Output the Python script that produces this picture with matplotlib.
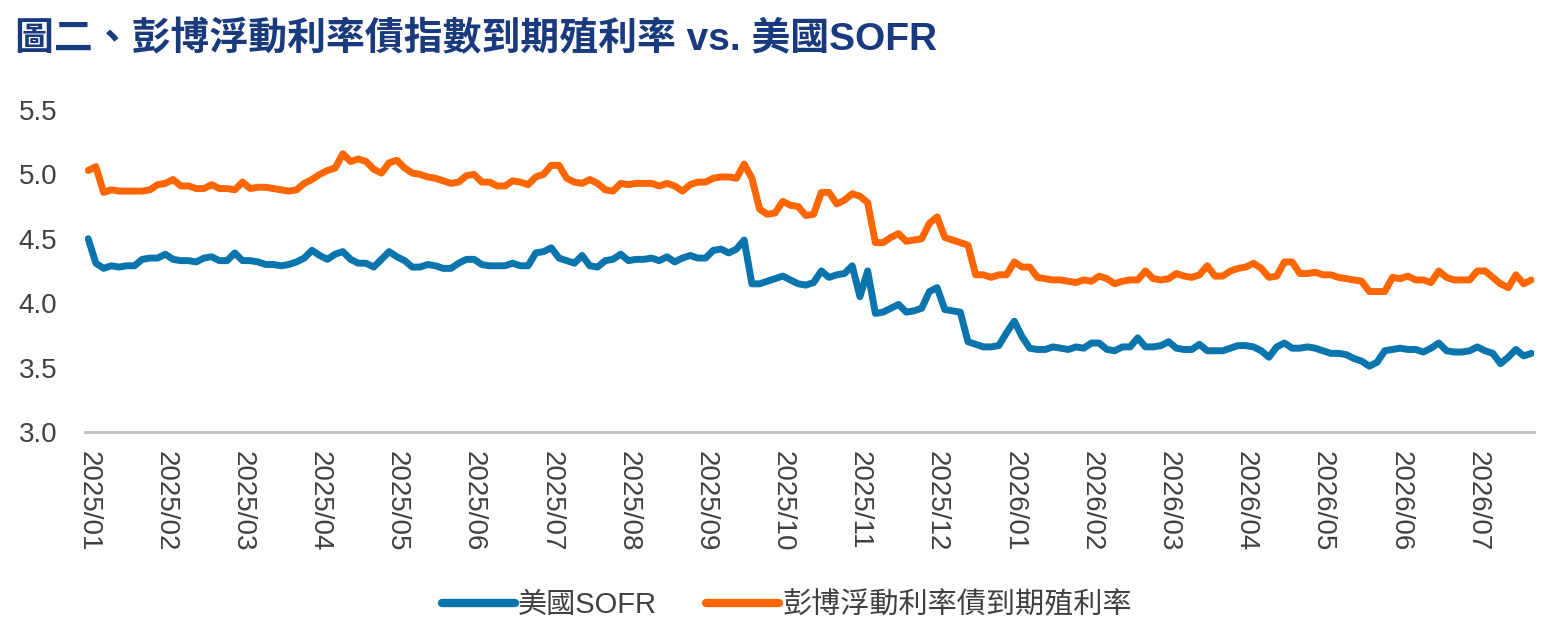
import numpy as np
import matplotlib
matplotlib.use("Agg")
import matplotlib.pyplot as plt

# ==========================================================
# Data (~10 points per month)
# ==========================================================

month_labels = ["2025/01", "2025/02", "2025/03", "2025/04", "2025/05",
                "2025/06", "2025/07", "2025/08", "2025/09", "2025/10",
                "2025/11", "2025/12", "2026/01", "2026/02", "2026/03",
                "2026/04", "2026/05", "2026/06", "2026/07"]

# 彭博浮動利率債到期殖利率
bbg_frn_ytm = [
    5.03, 5.06, 4.86, 4.88, 4.87, 4.87, 4.87, 4.87, 4.88, 4.92,
    4.93, 4.96, 4.91, 4.91, 4.89, 4.89, 4.92, 4.89, 4.89, 4.88,
    4.94, 4.89, 4.90, 4.90, 4.89, 4.88, 4.87, 4.88, 4.93, 4.96,
    5.00, 5.03, 5.05, 5.16, 5.10, 5.12, 5.10, 5.04, 5.01, 5.09,
    5.11, 5.05, 5.01, 5.00, 4.98, 4.97, 4.95, 4.93, 4.94, 4.99,
    5.00, 4.94, 4.94, 4.91, 4.91, 4.95, 4.94, 4.92, 4.98, 5.00,
    5.07, 5.07, 4.97, 4.94, 4.93, 4.96, 4.93, 4.88, 4.87, 4.93,
    4.92, 4.93, 4.93, 4.93, 4.91, 4.93, 4.91, 4.87, 4.92, 4.94,
    4.94, 4.97, 4.98, 4.98, 4.97, 5.08, 4.97, 4.73, 4.69, 4.70,
    4.79, 4.76, 4.75, 4.68, 4.69, 4.86, 4.86, 4.77, 4.80, 4.85,
    4.83, 4.78, 4.47, 4.47, 4.51, 4.54, 4.48, 4.49, 4.50, 4.62,
    4.67, 4.51, 4.49, 4.47, 4.45, 4.22, 4.22, 4.20, 4.22, 4.22,
    4.32, 4.28, 4.28, 4.20, 4.19, 4.18, 4.18, 4.17, 4.16, 4.18,
    4.17, 4.21, 4.19, 4.15, 4.17, 4.18, 4.18, 4.25, 4.19, 4.18,
    4.19, 4.23, 4.21, 4.20, 4.22, 4.29, 4.21, 4.21, 4.25, 4.27,
    4.28, 4.31, 4.27, 4.20, 4.21, 4.32, 4.32, 4.23, 4.23, 4.24,
    4.22, 4.22, 4.20, 4.19, 4.18, 4.17, 4.09, 4.09, 4.09, 4.20,
    4.19, 4.21, 4.18, 4.18, 4.16, 4.25, 4.20, 4.18, 4.18, 4.18,
    4.25, 4.25, 4.20, 4.15, 4.12, 4.22, 4.15, 4.18,
]

# 美國SOFR
us_sofr = [
    4.50, 4.31, 4.27, 4.29, 4.28, 4.29, 4.29, 4.34, 4.35, 4.35,
    4.38, 4.34, 4.33, 4.33, 4.32, 4.35, 4.36, 4.33, 4.33, 4.39,
    4.33, 4.33, 4.32, 4.30, 4.30, 4.29, 4.30, 4.32, 4.35, 4.41,
    4.37, 4.34, 4.38, 4.40, 4.34, 4.31, 4.31, 4.28, 4.34, 4.40,
    4.36, 4.33, 4.28, 4.28, 4.30, 4.29, 4.27, 4.27, 4.31, 4.34,
    4.34, 4.30, 4.29, 4.29, 4.29, 4.31, 4.29, 4.29, 4.39, 4.40,
    4.43, 4.35, 4.33, 4.31, 4.37, 4.29, 4.28, 4.33, 4.34, 4.38,
    4.33, 4.34, 4.34, 4.35, 4.33, 4.36, 4.32, 4.35, 4.37, 4.35,
    4.35, 4.41, 4.42, 4.39, 4.42, 4.49, 4.15, 4.15, 4.17, 4.19,
    4.21, 4.18, 4.15, 4.14, 4.16, 4.25, 4.20, 4.22, 4.23, 4.29,
    4.05, 4.25, 3.92, 3.93, 3.96, 3.99, 3.93, 3.94, 3.96, 4.09,
    4.12, 3.95, 3.94, 3.93, 3.70, 3.68, 3.66, 3.66, 3.67, 3.77,
    3.86, 3.74, 3.65, 3.64, 3.64, 3.66, 3.65, 3.64, 3.66, 3.65,
    3.69, 3.69, 3.64, 3.63, 3.66, 3.66, 3.73, 3.66, 3.66, 3.67,
    3.70, 3.65, 3.64, 3.64, 3.68, 3.63, 3.63, 3.63, 3.65, 3.67,
    3.67, 3.66, 3.63, 3.58, 3.66, 3.69, 3.65, 3.65, 3.66, 3.65,
    3.63, 3.61, 3.61, 3.60, 3.57, 3.55, 3.51, 3.54, 3.63, 3.64,
    3.65, 3.64, 3.64, 3.62, 3.65, 3.69, 3.63, 3.62, 3.62, 3.63,
    3.66, 3.63, 3.61, 3.53, 3.58, 3.64, 3.59, 3.61,
]

points_per_month = 10

# ==========================================================
# Styling
# ==========================================================

BLUE = "#0A74AD"
ORANGE = "#FF6600"
TEXT = "#404040"
TITLE_BLUE = "#1A3A7E"
FONTS = ["Liberation Sans", "Noto Sans CJK TC", "DejaVu Sans"]

plt.rcParams["font.family"] = FONTS

fig = plt.figure(figsize=(15.61, 6.25), dpi=100)
ax = fig.add_axes([0.0545, 0.309, 0.9285, 0.515])

x = np.arange(len(us_sofr))
ax.plot(x, us_sofr, color=BLUE, linewidth=5, solid_joinstyle="round",
        solid_capstyle="round", label="美國SOFR")
ax.plot(x, bbg_frn_ytm, color=ORANGE, linewidth=5, solid_joinstyle="round",
        solid_capstyle="round", label="彭博浮動利率債到期殖利率")

ax.set_ylim(3.0, 5.5)
ax.set_yticks([3.0, 3.5, 4.0, 4.5, 5.0, 5.5])
ax.set_yticklabels(["3.0", "3.5", "4.0", "4.5", "5.0", "5.5"])
ax.set_xlim(-0.4, len(us_sofr) - 0.6)
ax.set_xticks(np.arange(len(month_labels)) * points_per_month)
ax.set_xticklabels(month_labels, rotation=-90, va="top", ha="center")

for side in ["top", "right", "left"]:
    ax.spines[side].set_visible(False)
ax.spines["bottom"].set_color("#BFBFBF")
ax.spines["bottom"].set_linewidth(2)

ax.tick_params(axis="both", length=0, labelsize=20, labelcolor=TEXT)
ax.tick_params(axis="x", pad=14)
ax.tick_params(axis="y", pad=20)

fig.text(0.0096, 0.937, "圖二、彭博浮動利率債指數到期殖利率 vs. 美國SOFR",
         fontsize=28, fontweight="bold", color=TITLE_BLUE, va="center",
         ha="left", family=FONTS)

leg = fig.legend(loc="center", bbox_to_anchor=(0.504, 0.032), ncol=2,
                 frameon=False, fontsize=21, handlelength=2.5,
                 handletextpad=0.1, columnspacing=1.7)
for t in leg.get_texts():
    t.set_color(TEXT)
for h in leg.legend_handles:
    h.set_linewidth(6)

fig.savefig("out.png", dpi=100)
